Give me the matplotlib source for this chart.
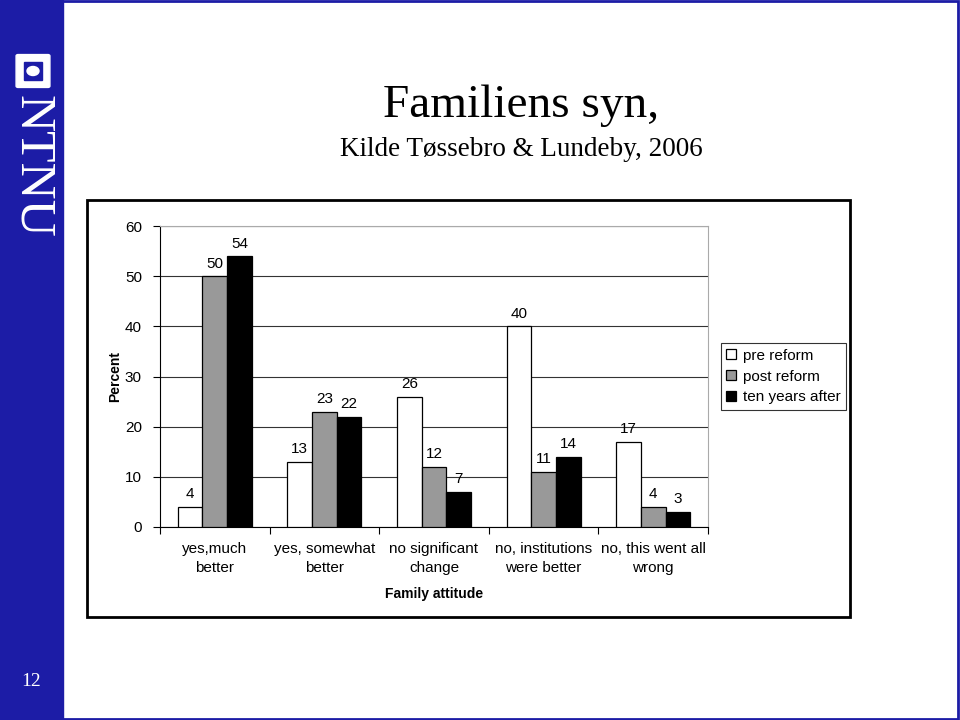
import matplotlib
matplotlib.use('Agg')
import matplotlib.pyplot as plt
import numpy as np
from matplotlib.patches import Rectangle, FancyBboxPatch, Circle

plt.rcParams['font.family'] = ['Liberation Sans', 'DejaVu Sans']

# data
categories = ['yes,much\nbetter', 'yes, somewhat\nbetter', 'no significant\nchange',
              'no, institutions\nwere better', 'no, this went all\nwrong']
series = ['pre reform', 'post reform', 'ten years after']
pre_reform = [4, 13, 26, 40, 17]
post_reform = [50, 23, 12, 11, 4]
ten_years = [54, 22, 7, 14, 3]
colors = ['white', '#999999', 'black']
blue = '#1c1ca6'

fig = plt.figure(figsize=(9.6, 7.2), dpi=100)

# slide decoration: blue band, border, logo, page number
fig.patches.append(Rectangle((0, 0), 63/960, 1, transform=fig.transFigure, color=blue, zorder=0))
fig.patches.append(Rectangle((0.001, 0.002), 0.997, 0.996, transform=fig.transFigure,
                             fill=False, ec=blue, lw=2, zorder=0))
fig.patches.append(FancyBboxPatch((18/960, 1-86/720), 30/960, 30/720, transform=fig.transFigure,
                                  boxstyle='round,pad=0.002', fc='white', ec='white', zorder=1))
fig.patches.append(Rectangle((24/960, 1-80/720), 18/960, 18/720, transform=fig.transFigure,
                             fc=blue, ec=blue, zorder=2))
fig.patches.append(Circle((33/960, 1-71/720), 6/960, transform=fig.transFigure,
                          fc='white', ec='white', zorder=3))
fig.text(32/960, 1-166/720, 'NTNU', rotation=-90, color='white', fontsize=37,
         family='Liberation Serif', ha='center', va='center')
fig.text(31/960, 1-681/720, '12', color='white', fontsize=14,
         family='Liberation Serif', ha='center', va='center')

# title
fig.text(521/960, 1-106/720, 'Familiens syn,', fontsize=34, family='Liberation Serif',
         ha='center', va='center')
fig.text(521/960, 1-149/720, 'Kilde Tøssebro & Lundeby, 2006', fontsize=19.5,
         family='Liberation Serif', ha='center', va='center')

# chart frame
fig.patches.append(Rectangle((87/960, 1-617/720), 763/960, 417/720, transform=fig.transFigure,
                             fill=False, ec='black', lw=2, zorder=1))

ax = fig.add_axes([160/960, 1-527/720, 548/960, 301/720])
x = np.arange(len(categories))
w = 0.225
for i, (vals, name) in enumerate(zip([pre_reform, post_reform, ten_years], series)):
    bars = ax.bar(x + (i - 1) * w, vals, w, color=colors[i], edgecolor='black',
                  linewidth=0.9, label=name, zorder=3)
    for b, v in zip(bars, vals):
        ax.annotate(str(v), (b.get_x() + b.get_width() / 2, v), xytext=(0, 4),
                    textcoords='offset points', ha='center', va='bottom', fontsize=11)

ax.set_xlim(-0.5, len(categories) - 0.5)
ax.set_ylim(0, 60)
ax.set_yticks(range(0, 61, 10))
ax.yaxis.grid(True, color='#333333', lw=0.8, zorder=0)
ax.set_xticks(x)
ax.set_xticklabels(categories, fontsize=11, linespacing=1.4)
ax.set_xticks(np.arange(-0.5, len(categories)), minor=True)
ax.tick_params(axis='x', which='major', length=0, pad=11)
ax.tick_params(axis='x', which='minor', length=5, width=0.8, direction='out')
ax.tick_params(axis='y', length=5, width=0.8, labelsize=11, pad=8)
ax.spines['top'].set_color('#aaaaaa')
ax.spines['right'].set_color('#aaaaaa')
ax.spines['left'].set_linewidth(0.8)
ax.spines['bottom'].set_linewidth(0.8)
ax.set_xlabel('Family attitude', fontsize=10, fontweight='bold', labelpad=9)
ax.set_ylabel('Percent', fontsize=10, fontweight='bold', labelpad=2)

leg = ax.legend(loc='center left', bbox_to_anchor=(1.024, 0.5), borderaxespad=0,
                fontsize=11, frameon=True, fancybox=False, edgecolor='black',
                handlelength=0.65, handleheight=0.65, handletextpad=0.4, borderpad=0.35,
                labelspacing=0.45)
leg.get_frame().set_linewidth(0.8)

fig.savefig('out.png', dpi=100)
